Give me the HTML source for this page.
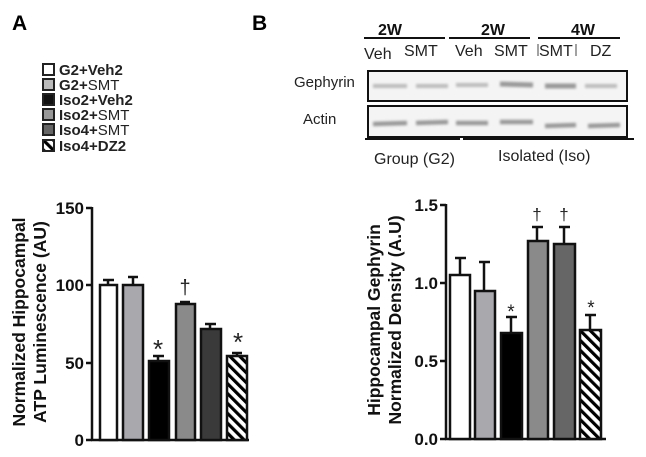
<!DOCTYPE html>
<html><head><meta charset="utf-8"><style>
body{margin:0;background:#fff;width:646px;height:452px;overflow:hidden}
text{font-family:"Liberation Sans",Arial,sans-serif}
</style></head><body>
<svg width="646" height="452" viewBox="0 0 646 452" xmlns="http://www.w3.org/2000/svg">
<defs>
<pattern id="h" patternUnits="userSpaceOnUse" width="7" height="7" patternTransform="rotate(-45)">
<rect width="7" height="7" fill="#fff"/><rect width="3.2" height="7" fill="#000"/></pattern>
<filter id="b"><feGaussianBlur stdDeviation="1.2"/></filter>
</defs>
<text x="12" y="30" font-size="21" font-weight="bold">A</text>
<text x="252" y="30" font-size="21" font-weight="bold">B</text>
<!-- legend -->
<g stroke="#222" stroke-width="2">
<rect x="43" y="64" width="11" height="11" fill="#fff"/>
<rect x="43" y="79" width="11" height="11" fill="#bbb"/>
<rect x="43" y="94" width="11" height="11" fill="#111"/>
<rect x="43" y="109" width="11" height="11" fill="#999"/>
<rect x="43" y="124" width="11" height="11" fill="#666"/>
<rect x="43" y="140" width="11" height="11" fill="url(#h)"/>
</g>
<g font-size="15" font-weight="bold" fill="#222">
<text x="59" y="75">G2+Veh2</text>
<text x="59" y="90">G2+<tspan font-weight="normal">SMT</tspan></text>
<text x="59" y="105">Iso2+Veh2</text>
<text x="59" y="120">Iso2+<tspan font-weight="normal">SMT</tspan></text>
<text x="59" y="135">Iso4+<tspan font-weight="normal">SMT</tspan></text>
<text x="59" y="151">Iso4+DZ2</text>
</g>
<!-- chart A -->
<g stroke="#111" stroke-width="2.5">
<line x1="92" y1="207" x2="92" y2="441"/><line x1="91" y1="440" x2="249" y2="440"/>
<line x1="86" y1="208" x2="92" y2="208"/><line x1="86" y1="285" x2="92" y2="285"/><line x1="86" y1="363" x2="92" y2="363"/><line x1="86" y1="440" x2="92" y2="440"/>
</g>
<g font-size="17" font-weight="bold" fill="#111" text-anchor="end">
<text x="84" y="214">150</text><text x="84" y="291">100</text><text x="84" y="369">50</text><text x="84" y="446">0</text>
</g>
<g stroke="#111" stroke-width="2.5">
<line x1="108" y1="285" x2="108" y2="280"/><line x1="103" y1="280" x2="114" y2="280"/>
<line x1="133" y1="285" x2="133" y2="277"/><line x1="128" y1="277" x2="138" y2="277"/>
<line x1="158" y1="361" x2="158" y2="356"/><line x1="153" y1="356" x2="164" y2="356"/>
<line x1="185" y1="304" x2="185" y2="302"/><line x1="180" y1="302" x2="190" y2="302"/>
<line x1="210" y1="329" x2="210" y2="324"/><line x1="205" y1="324" x2="216" y2="324"/>
<line x1="237" y1="356" x2="237" y2="353"/><line x1="232" y1="353" x2="242" y2="353"/>
<rect x="100" y="285" width="17" height="155" fill="#fff"/>
<rect x="123" y="285" width="20" height="155" fill="#a8a8ad"/>
<rect x="149" y="361" width="20" height="79" fill="#000"/>
<rect x="176" y="304" width="19" height="136" fill="#8a8a8a"/>
<rect x="201" y="329" width="20" height="111" fill="#3a3a3a"/>
<rect x="227" y="356" width="20" height="84" fill="url(#h)"/>
</g>
<g fill="#222" text-anchor="middle">
<text x="158" y="358" font-size="26">*</text><text x="185" y="294" font-size="20">†</text><text x="238" y="351" font-size="26">*</text>
</g>
<g font-size="17.5" font-weight="bold" fill="#111" text-anchor="middle">
<text transform="translate(25,322) rotate(-90)">Normalized Hippocampal</text>
<text transform="translate(46,322) rotate(-90)">ATP Luminescence (AU)</text>
</g>
<!-- blot -->
<g stroke="#111" stroke-width="2">
<line x1="364" y1="38" x2="445" y2="38"/><line x1="449" y1="38" x2="530" y2="38"/><line x1="538" y1="38" x2="620" y2="38"/>
<line x1="365" y1="139" x2="460" y2="139"/><line x1="463" y1="139" x2="634" y2="139"/>
</g>
<g font-size="16" font-weight="bold" fill="#111" text-anchor="middle">
<text x="390" y="35">2W</text><text x="493" y="35">2W</text><text x="583" y="35">4W</text>
</g>
<g font-size="16" fill="#222">
<text x="364" y="59">Veh</text><text x="404" y="56">SMT</text><text x="455" y="56">Veh</text><text x="494" y="56">SMT</text><text x="539" y="56">SMT</text><text x="590" y="56">DZ</text>
<text x="294" y="87" font-size="15">Gephyrin</text><text x="303" y="124" font-size="15">Actin</text>
<text x="374" y="164">Group (G2)</text><text x="498" y="161">Isolated (Iso)</text>
</g>
<line x1="538" y1="44" x2="538" y2="56" stroke="#444"/><line x1="576" y1="44" x2="576" y2="56" stroke="#444"/>
<rect x="368" y="71" width="259" height="30" fill="#f4f4f4" stroke="#111" stroke-width="2"/>
<rect x="368" y="106" width="259" height="31" fill="#f4f4f4" stroke="#111" stroke-width="2"/>
<g filter="url(#b)">
<g stroke="#bbb" stroke-width="4"><line x1="373" y1="86" x2="407" y2="86"/><line x1="416" y1="86" x2="448" y2="86"/><line x1="456" y1="85" x2="488" y2="85"/><line x1="585" y1="86" x2="617" y2="86"/></g>
<g stroke="#999" stroke-width="5"><line x1="500" y1="84" x2="533" y2="85"/><line x1="545" y1="86" x2="576" y2="86"/></g>
<g stroke="#999" stroke-width="4.5"><line x1="373" y1="124" x2="407" y2="123"/><line x1="416" y1="123" x2="448" y2="122"/><line x1="456" y1="123" x2="488" y2="123"/><line x1="500" y1="122" x2="533" y2="122"/><line x1="545" y1="126" x2="576" y2="125"/><line x1="588" y1="126" x2="620" y2="125"/></g>
</g>
<!-- chart B -->
<g stroke="#111" stroke-width="2.5">
<line x1="446" y1="204" x2="446" y2="440"/><line x1="445" y1="439" x2="606" y2="439"/>
<line x1="440" y1="205" x2="446" y2="205"/><line x1="440" y1="283" x2="446" y2="283"/><line x1="440" y1="361" x2="446" y2="361"/><line x1="440" y1="439" x2="446" y2="439"/>
</g>
<g font-size="17" font-weight="bold" fill="#111" text-anchor="end">
<text x="438" y="211">1.5</text><text x="438" y="289">1.0</text><text x="438" y="367">0.5</text><text x="438" y="445">0.0</text>
</g>
<g stroke="#111" stroke-width="2.5">
<line x1="460" y1="275" x2="460" y2="258"/><line x1="455" y1="258" x2="466" y2="258"/>
<line x1="484" y1="291" x2="484" y2="262"/><line x1="479" y1="262" x2="490" y2="262"/>
<line x1="511" y1="333" x2="511" y2="317"/><line x1="506" y1="317" x2="517" y2="317"/>
<line x1="537" y1="241" x2="537" y2="227"/><line x1="532" y1="227" x2="543" y2="227"/>
<line x1="564" y1="244" x2="564" y2="227"/><line x1="559" y1="227" x2="570" y2="227"/>
<line x1="590" y1="330" x2="590" y2="315"/><line x1="585" y1="315" x2="596" y2="315"/>
<rect x="450" y="275" width="20" height="164" fill="#fff"/>
<rect x="475" y="291" width="20" height="148" fill="#a8a8ad"/>
<rect x="501" y="333" width="21" height="106" fill="#000"/>
<rect x="528" y="241" width="20" height="198" fill="#8a8a8a"/>
<rect x="554" y="244" width="21" height="195" fill="#666"/>
<rect x="580" y="330" width="21" height="109" fill="url(#h)"/>
</g>
<g fill="#222" text-anchor="middle">
<text x="511" y="318" font-size="19">*</text><text x="537" y="220" font-size="17">†</text><text x="564" y="220" font-size="17">†</text><text x="591" y="314" font-size="19">*</text>
</g>
<g font-size="17.5" font-weight="bold" fill="#111" text-anchor="middle">
<text transform="translate(380,320) rotate(-90)">Hippocampal Gephyrin</text>
<text transform="translate(401,320) rotate(-90)">Normalized Density (A.U)</text>
</g>
</svg>
</body></html>
